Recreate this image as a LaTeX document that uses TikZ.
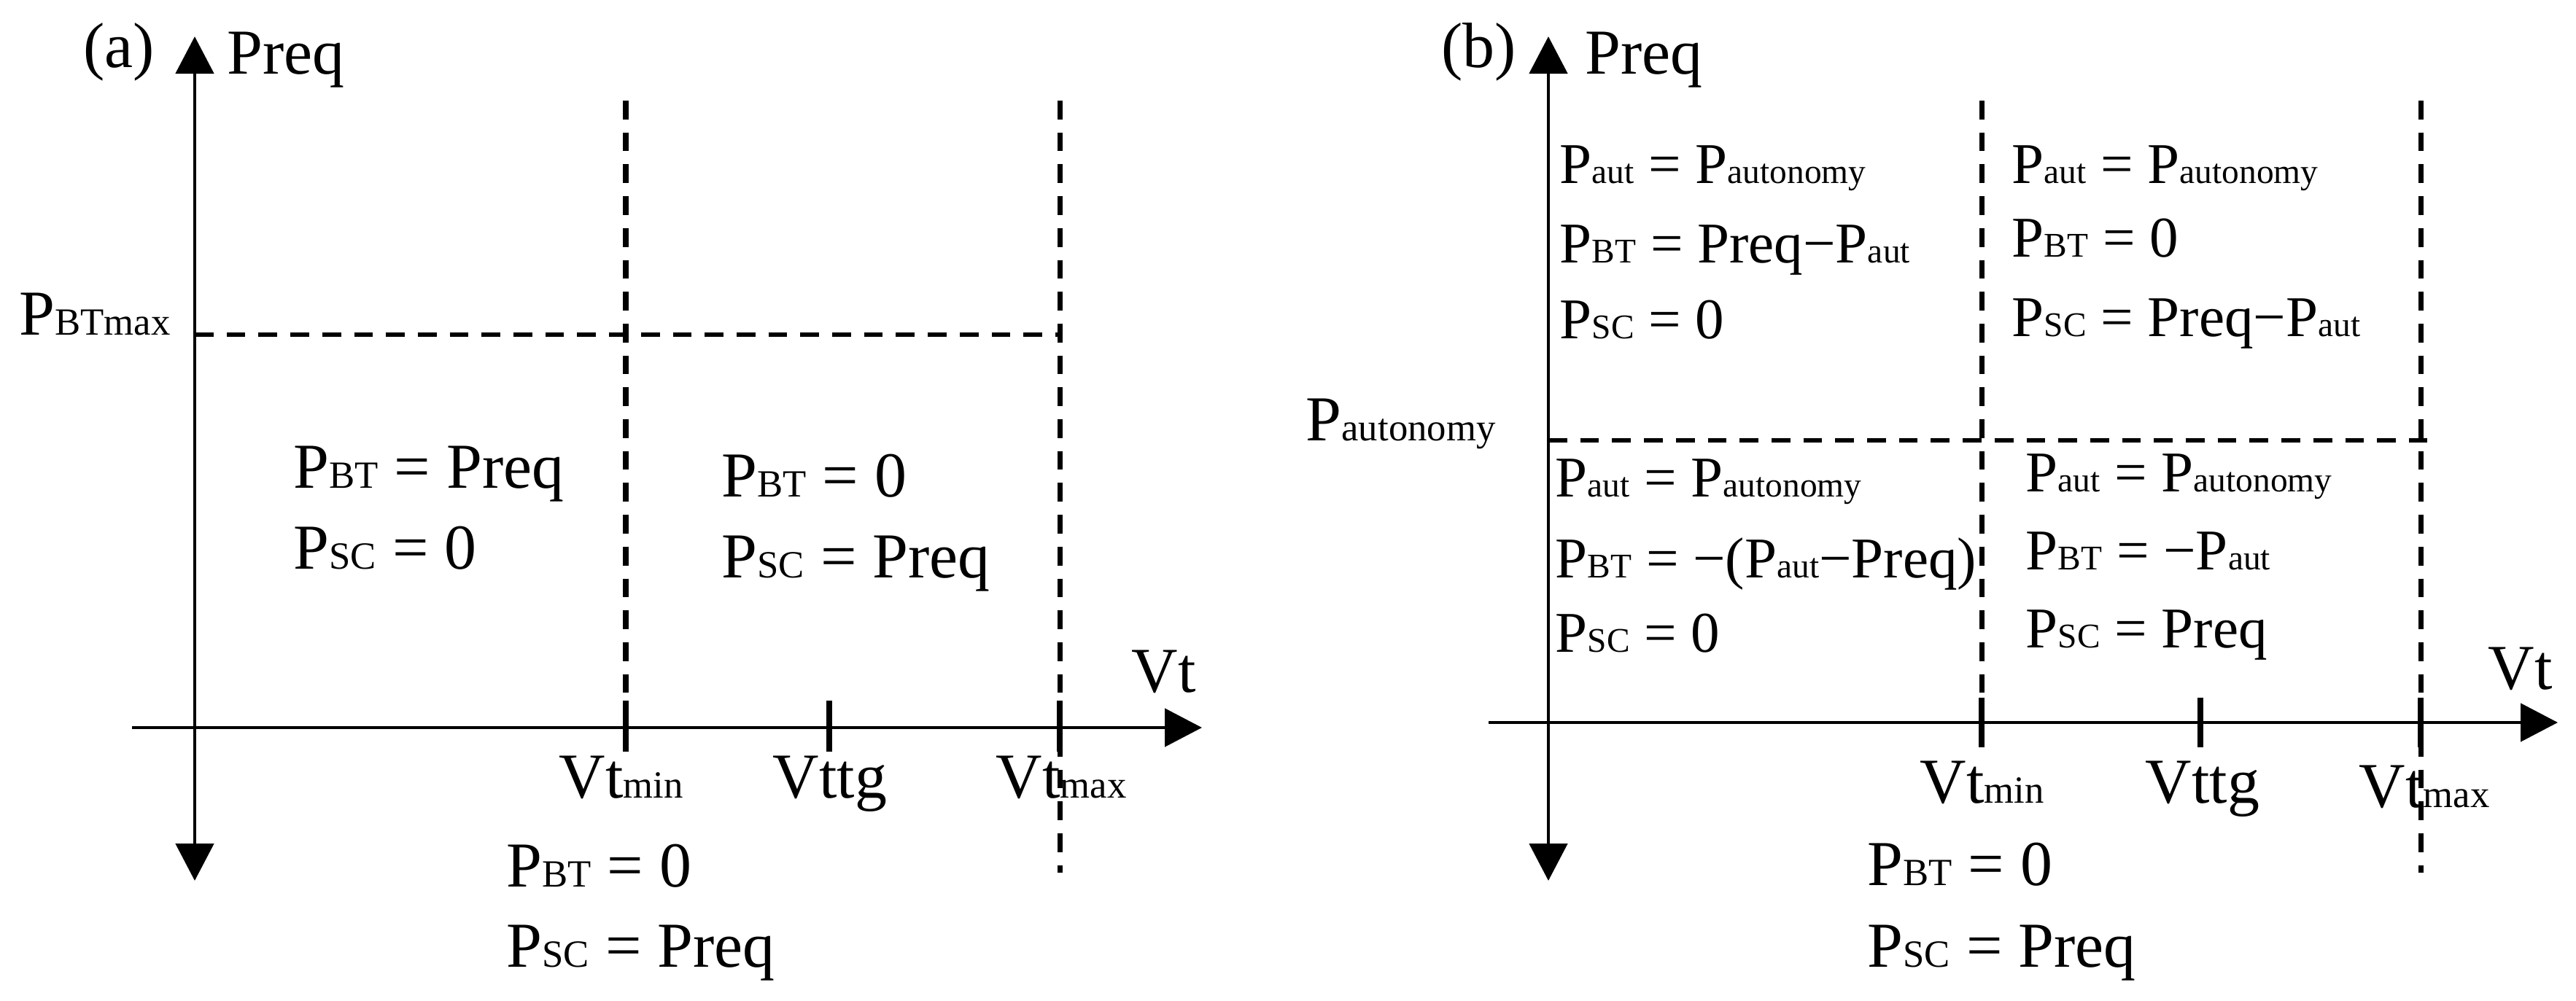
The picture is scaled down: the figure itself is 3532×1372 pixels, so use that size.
\documentclass[tikz,border=0pt]{standalone}
\usepackage{fontspec}
\setmainfont{Liberation Serif}
\usetikzlibrary{
    arrows.meta
}
\makeatletter
\newcommand{\sbt}[1]{{\fontsize{\fpeval{0.6*\f@size}}{0}\selectfont #1}}
\makeatother

\begin{document}
\begin{tikzpicture}[x=0.1mm, y=-0.1mm,
        lbl/.style={anchor=base west, inner sep=0pt, font=\fontsize{25}{30}\selectfont},
        rgn/.style={anchor=base west, inner sep=0pt, font=\fontsize{22.5}{27}\selectfont},
        axisline/.style={line width=1.4pt},
        tip/.style={-{Triangle[length=5.1mm, width=5.2mm]}},
        tips/.style={{Triangle[length=5.1mm, width=5.2mm]}-{Triangle[length=5.1mm, width=5.2mm]}},
        hdash/.style={line width=1.9pt, dash pattern=on 2.57mm off 1.8mm},
        vdash/.style={line width=2pt, dash pattern=on 2.57mm off 1.8mm},
        tickmark/.style={line width=2.4pt}]
    \useasboundingbox (0,0) rectangle (3532,1372);

    % (a)
    \coordinate (a-top) at (267,50);
    \coordinate (a-bot) at (267,1208);
    \coordinate (a-left) at (181,998);
    \coordinate (a-right) at (1648,998);
    \draw[axisline, tips] (a-bot) -- (a-top);
    \draw[axisline, tip] (a-left) -- (a-right);
    \draw[hdash] (267,459) -- (1453,459);
    \draw[vdash] (858,138) -- (858,998);
    \draw[vdash] (1453,138) -- (1453,1197);
    \draw[tickmark] (858,961) -- (858,1031);
    \draw[tickmark] (1137,961) -- (1137,1031);
    \draw[tickmark] (1453,961) -- (1453,1031);

    \node[lbl] (a-tag) at (114,92) {(a)};
    \node[lbl] (a-ylab) at (311,101) {Preq};
    \node[lbl] (a-xlab) at (1551,949) {Vt};
    \node[lbl] (a-pbtmax) at (26,459) {P\sbt{BTmax}};
    \node[lbl] (a-vmin) at (766,1094) {Vt\sbt{min}};
    \node[lbl] (a-vttg) at (1059,1094) {Vttg};
    \node[lbl] (a-vmax) at (1365,1094) {Vt\sbt{max}};
    \node[lbl] (a-l1) at (402,669) {P\sbt{BT} = Preq};
    \node[lbl] (a-l2) at (402,780) {P\sbt{SC} = 0};
    \node[lbl] (a-m1) at (989,681) {P\sbt{BT} = 0};
    \node[lbl] (a-m2) at (989,792) {P\sbt{SC} = Preq};
    \node[lbl] (a-b1) at (694,1216) {P\sbt{BT} = 0};
    \node[lbl] (a-b2) at (694,1326) {P\sbt{SC} = Preq};

    % (b)
    \coordinate (b-top) at (2123,50);
    \coordinate (b-bot) at (2123,1208);
    \coordinate (b-left) at (2041,991);
    \coordinate (b-right) at (3507,991);
    \draw[axisline, tips] (b-bot) -- (b-top);
    \draw[axisline, tip] (b-left) -- (b-right);
    \draw[hdash] (2123,604) -- (3328,604);
    \draw[vdash] (2717,138) -- (2717,991);
    \draw[vdash] (3319,138) -- (3319,1197);
    \draw[tickmark] (2717,957) -- (2717,1025);
    \draw[tickmark] (3017,957) -- (3017,1025);
    \draw[tickmark] (3319,957) -- (3319,1025);

    \node[lbl] (b-tag) at (1976,92) {(b)};
    \node[lbl] (b-ylab) at (2173,101) {Preq};
    \node[lbl] (b-xlab) at (3411,945) {Vt};
    \node[lbl] (b-paut) at (1790,604) {P\sbt{autonomy}};
    \node[lbl] (b-vmin) at (2632,1101) {Vt\sbt{min}};
    \node[lbl] (b-vttg) at (2941,1101) {Vttg};
    \node[lbl] (b-vmax) at (3234,1107) {Vt\sbt{max}};
    \node[rgn] (b-tl1) at (2138,251) {P\sbt{aut} = P\sbt{autonomy}};
    \node[rgn] (b-tl2) at (2138,360) {P\sbt{BT} = Preq−P\sbt{aut}};
    \node[rgn] (b-tl3) at (2138,464) {P\sbt{SC} = 0};
    \node[rgn] (b-tr1) at (2758,251) {P\sbt{aut} = P\sbt{autonomy}};
    \node[rgn] (b-tr2) at (2758,352) {P\sbt{BT} = 0};
    \node[rgn] (b-tr3) at (2758,461) {P\sbt{SC} = Preq−P\sbt{aut}};
    \node[rgn] (b-bl1) at (2132,681) {P\sbt{aut} = P\sbt{autonomy}};
    \node[rgn] (b-bl2) at (2132,792) {P\sbt{BT} = −(P\sbt{aut}−Preq)};
    \node[rgn] (b-bl3) at (2132,894) {P\sbt{SC} = 0};
    \node[rgn] (b-br1) at (2777,674) {P\sbt{aut} = P\sbt{autonomy}};
    \node[rgn] (b-br2) at (2777,781) {P\sbt{BT} = −P\sbt{aut}};
    \node[rgn] (b-br3) at (2777,888) {P\sbt{SC} = Preq};
    \node[lbl] (b-b1) at (2560,1214) {P\sbt{BT} = 0};
    \node[lbl] (b-b2) at (2560,1326) {P\sbt{SC} = Preq};
\end{tikzpicture}
\end{document}
